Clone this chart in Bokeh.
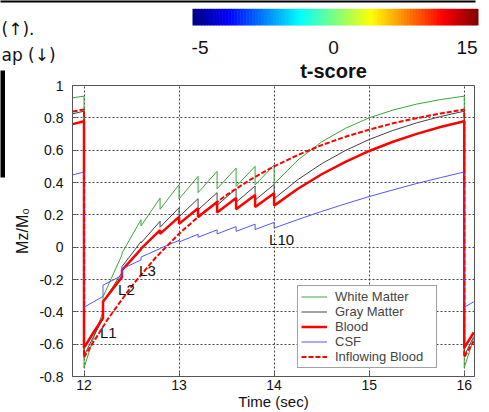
import numpy as np
from bokeh.plotting import figure
from bokeh.models import Range1d
from bokeh.core.properties import value
from bokeh.embed import file_html
from bokeh.resources import INLINE

FONT = "Liberation Sans"

# ---- data ----
t_tissue = [11.88, 12.0, 12.0, 12.1, 12.2, 12.2, 12.4, 12.4, 12.6, 12.6, 12.8, 12.8,
            13.0, 13.0, 13.2, 13.2, 13.4, 13.4, 13.6, 13.6, 13.8, 13.8, 14.0, 14.0,
            14.25, 14.5, 14.75, 15.0, 15.25, 15.5, 15.75, 16.0, 16.0, 16.1]
white_matter = [0.924, 0.934, -0.747, -0.563, -0.399, -0.307, -0.047, -0.036, 0.170, 0.131,
                0.304, 0.234, 0.387, 0.298, 0.438, 0.337, 0.469, 0.361, 0.489, 0.376,
                0.500, 0.385, 0.508, 0.391, 0.539, 0.651, 0.735, 0.800, 0.848, 0.885,
                0.913, 0.934, -0.747, -0.563]
gray_matter = [0.825, 0.841, -0.673, -0.553, -0.442, -0.341, -0.156, -0.120, 0.034, 0.026,
               0.160, 0.123, 0.244, 0.188, 0.300, 0.231, 0.337, 0.259, 0.361, 0.278,
               0.378, 0.291, 0.388, 0.299, 0.418, 0.516, 0.598, 0.666, 0.722, 0.769,
               0.808, 0.841, -0.673, -0.553]
blood = [0.761, 0.779, -0.623, -0.528, -0.438, -0.337, -0.184, -0.142, -0.012, -0.009,
         0.106, 0.082, 0.187, 0.144, 0.241, 0.186, 0.279, 0.215, 0.304, 0.234,
         0.322, 0.248, 0.334, 0.257, 0.361, 0.451, 0.528, 0.595, 0.652, 0.701,
         0.743, 0.779, -0.623, -0.528]
csf = [0.447, 0.465, -0.372, -0.338, -0.305, -0.235, -0.175, -0.134, -0.079, -0.061,
       -0.009, -0.007, 0.042, 0.032, 0.080, 0.061, 0.107, 0.082, 0.127, 0.098,
       0.142, 0.109, 0.153, 0.118, 0.171, 0.221, 0.268, 0.313, 0.354, 0.394,
       0.430, 0.465, -0.372, -0.338]
t_inflow = [11.88, 12.0, 12.0, 12.25, 12.5, 12.75, 13.0, 13.25, 13.5, 13.75, 14.0,
            14.25, 14.5, 14.75, 15.0, 15.25, 15.5, 15.75, 16.0, 16.0, 16.1]
inflowing_blood = [0.839, 0.851, -0.681, -0.445, -0.242, -0.067, 0.083, 0.212, 0.323, 0.418,
                   0.500, 0.570, 0.631, 0.683, 0.727, 0.766, 0.798, 0.827, 0.851, -0.681, -0.582]

x_ticks = [12, 13, 14, 15, 16]
x_tick_labels = ["12", "13", "14", "15", "16"]
y_ticks = [-0.8, -0.6, -0.4, -0.2, 0, 0.2, 0.4, 0.6, 0.8, 1]
y_tick_labels = ["-0.8", "-0.6", "-0.4", "-0.2", "0", "0.2", "0.4", "0.6", "0.8", "1"]

pulse_labels = ["L1", "L2", "L3", "L10"]
pulse_label_t = [12.168, 12.358, 12.579, 13.947]
pulse_label_v = [-0.528, -0.262, -0.144, 0.048]

cbar_tick_labels = ["-5", "0", "15"]
cbar_title = "t-score"
caption_lines = ["(\u2191\ufe0e).", "ap (\u2193\ufe0e)"]

# ---- figure ----
p = figure(width=489, height=412,
           x_range=Range1d(11.879, 16.108), y_range=Range1d(-0.8, 1.0),
           output_backend="svg", toolbar_location=None,
           min_border_left=72, min_border_right=15, min_border_top=85, min_border_bottom=36)
p.background_fill_color = "white"
p.border_fill_color = "white"
p.outline_line_color = "#555555"
p.outline_line_width = 1

# pixel-space ranges for the decorations outside the frame
p.extra_x_ranges = {"px": Range1d(72, 474)}
p.extra_y_ranges = {"py": Range1d(376, 85)}

p.xaxis.ticker = x_ticks
p.xaxis.major_label_overrides = dict(zip(x_ticks, x_tick_labels))
p.yaxis.ticker = y_ticks
p.yaxis.major_label_overrides = dict(zip(y_ticks, y_tick_labels))
p.xgrid.ticker = x_ticks
p.ygrid.ticker = y_ticks

for ax in (p.xaxis, p.yaxis):
    ax.axis_line_color = "#555555"
    ax.major_tick_line_color = "#555555"
    ax.major_tick_in = 4
    ax.major_tick_out = 0
    ax.minor_tick_line_color = None
    ax.major_label_text_font = FONT
    ax.major_label_text_font_size = "14px"
    ax.major_label_text_color = "#111111"
    ax.axis_label_text_font = FONT
    ax.axis_label_text_font_style = "normal"
    ax.axis_label_text_color = "#111111"

p.xaxis.axis_label = "Time (sec)"
p.xaxis.axis_label_text_font_size = "15px"
p.xaxis.major_label_standoff = 3
p.xaxis.axis_label_standoff = 0
p.yaxis.axis_label = "Mz/M\u2080"
p.yaxis.axis_label_text_font_size = "16px"
p.yaxis.major_label_standoff = 9
p.yaxis.axis_label_standoff = 5

p.grid.grid_line_color = "#333333"
p.grid.grid_line_dash = "2 2"
p.grid.grid_line_alpha = 0.9

p.line(t_tissue, white_matter, line_color="#3aa63a", line_width=1, legend_label="White Matter")
p.line(t_tissue, gray_matter, line_color="#444444", line_width=1, legend_label="Gray Matter")
p.line(t_tissue, blood, line_color="#ff0000", line_width=2.5, legend_label="Blood")
p.line(t_tissue, csf, line_color="#5555ff", line_width=1, legend_label="CSF")
p.line(t_inflow, inflowing_blood, line_color="#ff0000", line_width=2, line_dash="5 2",
       legend_label="Inflowing Blood")

p.text(pulse_label_t, pulse_label_v, text=pulse_labels, text_font=value(FONT),
       text_font_size="15px", text_align="left", text_baseline="middle", text_color="#111111")

lg = p.legend[0]
lg.location = (225, 8)
lg.margin = 0
lg.padding = 3
lg.spacing = 0
lg.glyph_width = 26
lg.glyph_height = 13
lg.label_height = 13
lg.label_width = 98
lg.label_standoff = 8
lg.label_text_font = FONT
lg.label_text_font_size = "13px"
lg.border_line_color = "#444444"
lg.border_line_width = 1
lg.background_fill_color = "white"
lg.background_fill_alpha = 1.0

# ---- decorations outside the frame (pixel space) ----
def jet(x):
    r = np.clip(1.5 - np.abs(4 * x - 3), 0, 1)
    g = np.clip(1.5 - np.abs(4 * x - 2), 0, 1)
    b = np.clip(1.5 - np.abs(4 * x - 1), 0, 1)
    return ["#%02x%02x%02x" % (int(255 * rr), int(255 * gg), int(255 * bb)) for rr, gg, bb in zip(r, g, b)]

N = 96
edges = np.linspace(192, 478, N + 1)
lefts = edges[:-1]
rights = np.minimum(edges[1:] + 0.6, 478)
cols = jet((np.arange(N) + 0.5) / N)
p.quad(left=lefts, right=rights, top=8.3, bottom=25, fill_color=cols, line_color=None,
       x_range_name="px", y_range_name="py", level="overlay")

p.text([199.5, 333, 466.5], [47, 47, 47], text=cbar_tick_labels, text_font=value(FONT),
       text_font_size="19px", text_align="center", text_baseline="alphabetic",
       text_color="#111111", x_range_name="px", y_range_name="py", level="overlay")
p.text([333], [70.5], text=[cbar_title], text_font=value(FONT), text_font_size="20px",
       text_font_style="bold", text_align="center", text_baseline="alphabetic",
       text_color="#111111", x_range_name="px", y_range_name="py", level="overlay")
p.text([1, 1], [28, 54], text=caption_lines, text_font=value("DejaVu Sans"),
       text_font_size="17px", text_align="left", text_baseline="alphabetic", text_color="#111111",
       x_range_name="px", y_range_name="py", level="overlay")

# black border fragments of the source figure
p.quad(left=[0, 0], right=[475, 4.5], top=[0, 70], bottom=[2, 177], fill_color="black",
       line_color=None, x_range_name="px", y_range_name="py", level="overlay")

open("out.html", "w").write(file_html(p, INLINE))
